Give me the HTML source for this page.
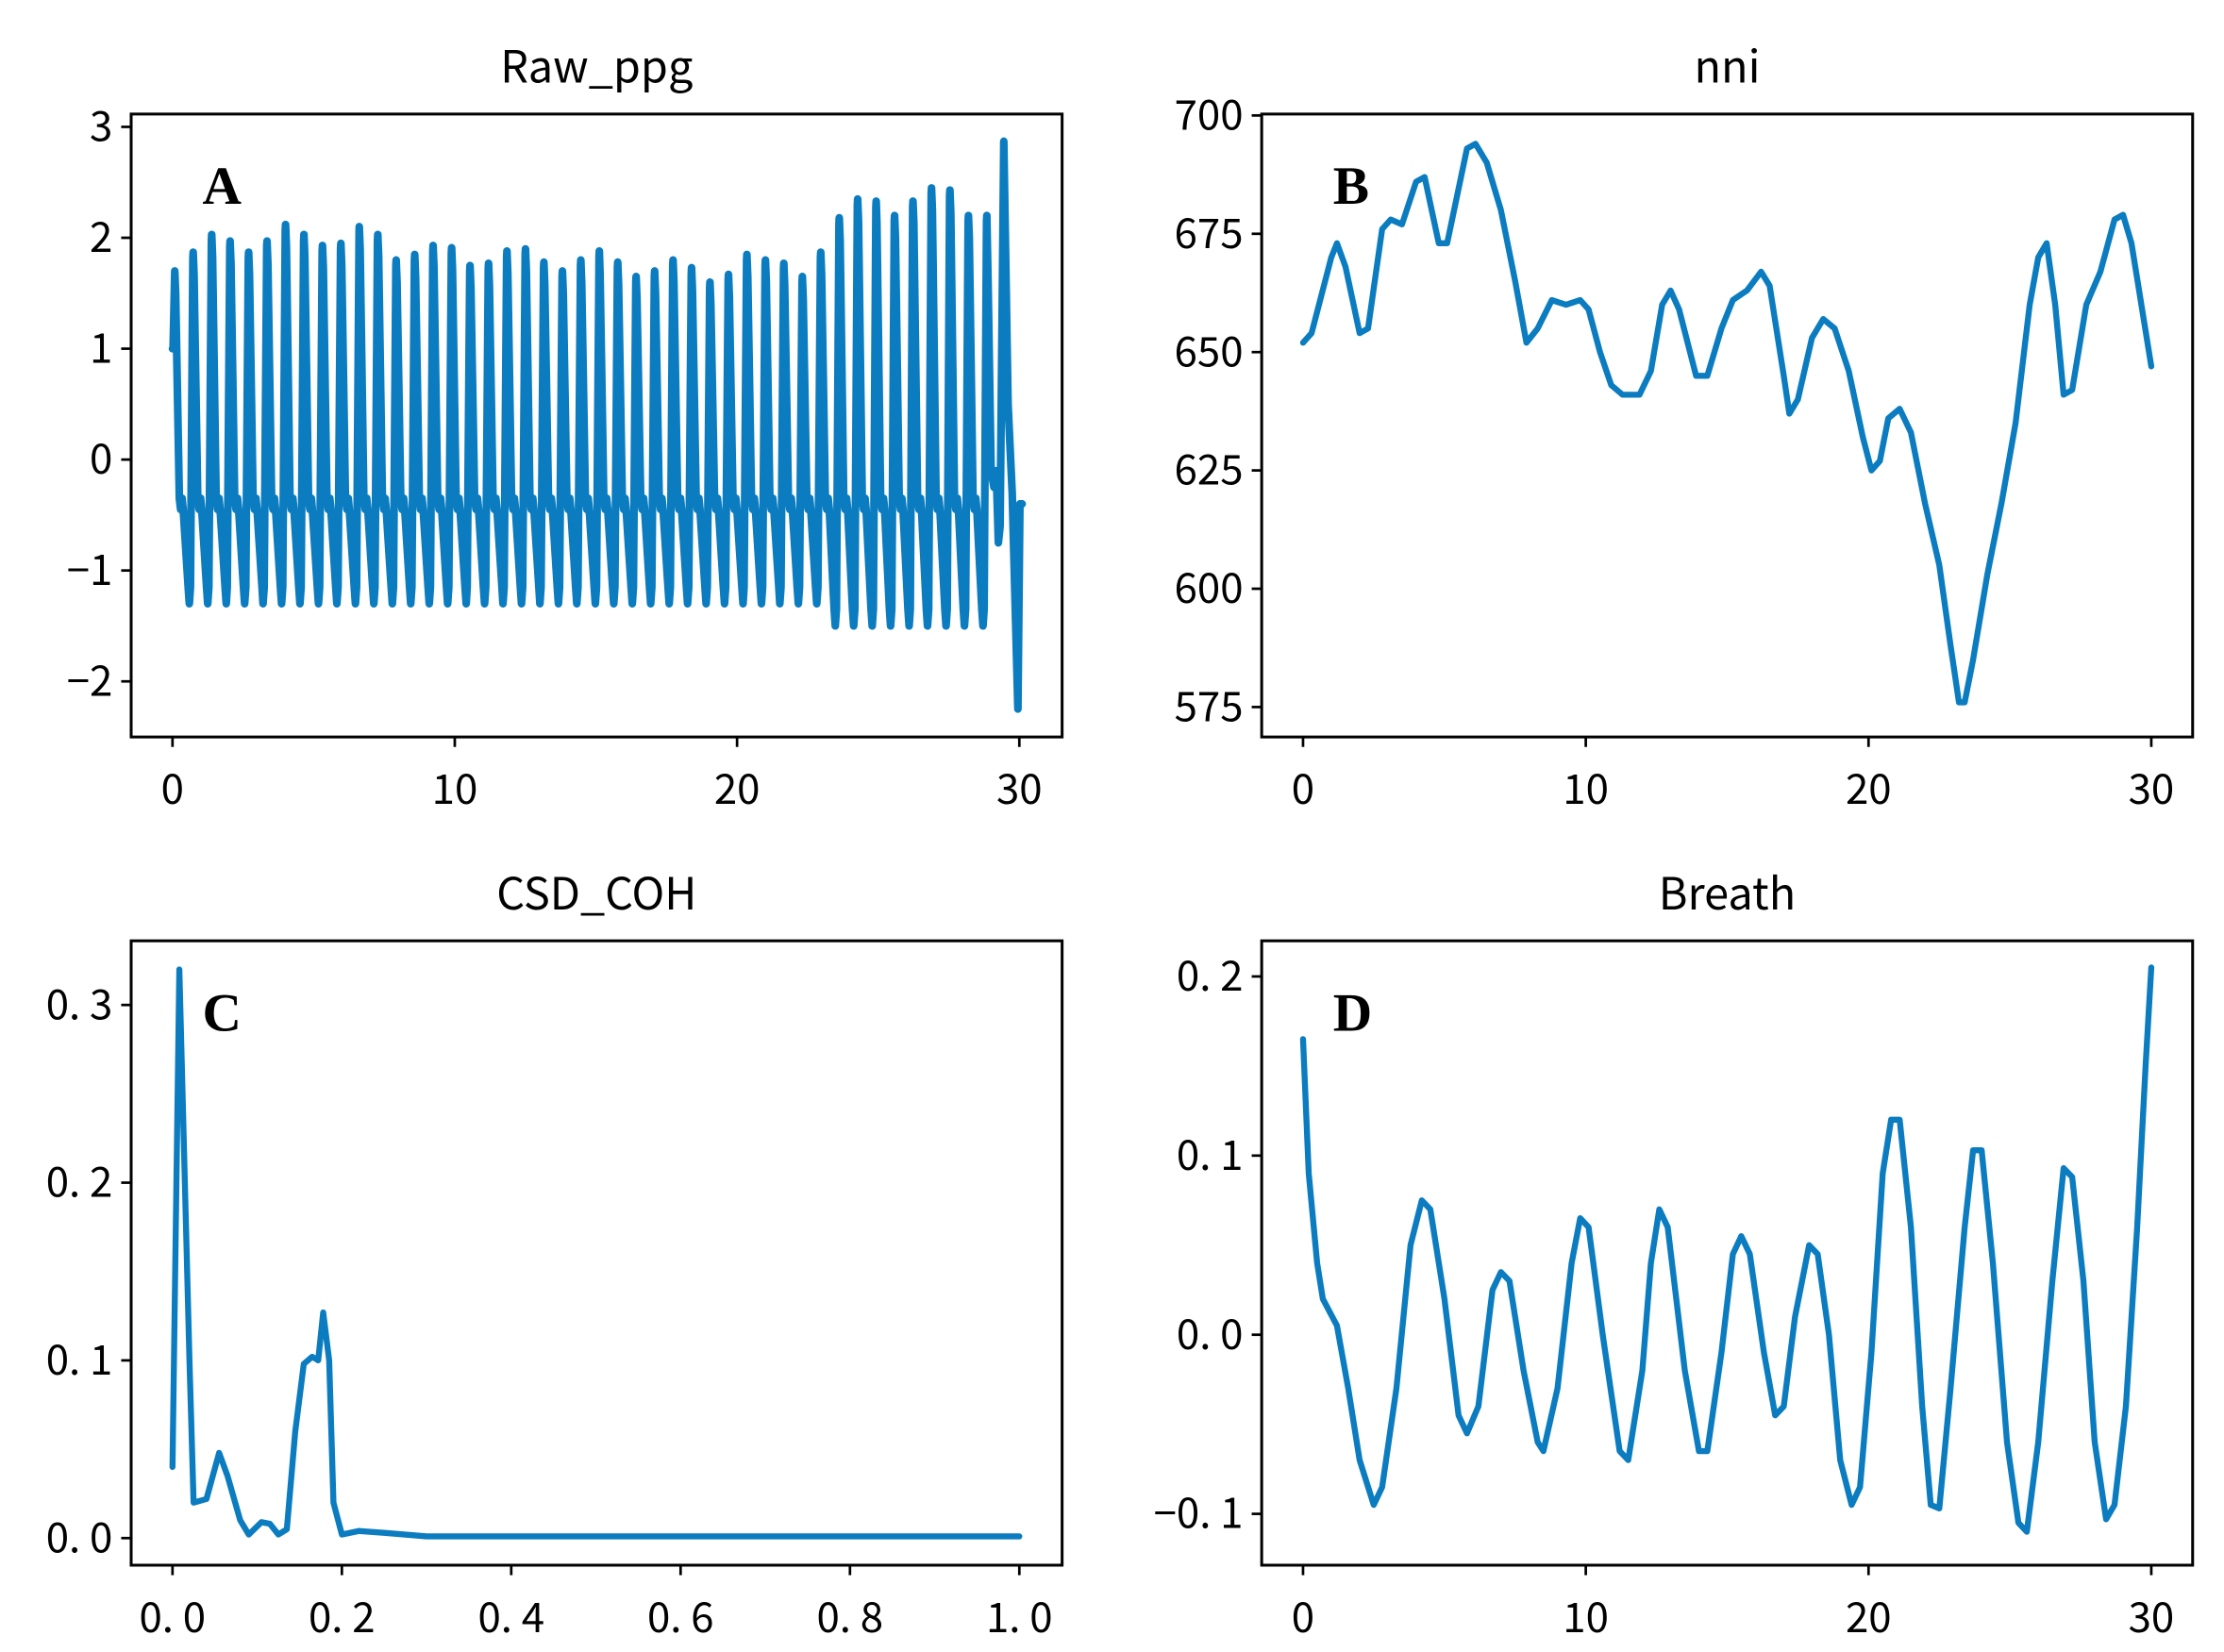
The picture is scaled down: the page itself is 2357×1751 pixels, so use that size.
<!DOCTYPE html>
<html><head><meta charset="utf-8"><style>
html,body{margin:0;padding:0;background:#fff}
svg{display:block}
text{font-family:"Noto Sans CJK SC","WenQuanYi Zen Hei",sans-serif;fill:#000}
.t{font-size:29px}
.tt{font-size:31px}
.L{font-family:"Liberation Serif",serif;font-weight:bold;font-size:38px}
</style></head><body>
<svg id="s" width="2357" height="1751" viewBox="0 0 1560 1158.9" xmlns="http://www.w3.org/2000/svg">
<g id="g"></g>
</svg>
<script>
const NS="http://www.w3.org/2000/svg",g=document.getElementById('g');
function el(t,a,txt){const e=document.createElementNS(NS,t);for(const k in a)e.setAttribute(k,a[k]);if(txt!==undefined)e.textContent=txt;g.appendChild(e);return e;}
function panel(o){
 const {x0,x1,y0,y1,title,letter,xt,yt,fx,fy,pts,sw}=o;
 el('text',{x:(x0+x1)/2,y:y0-22,'text-anchor':'middle',class:'tt'},title);
 let d=pts.map((p,i)=>(i?'L':'M')+fx(p[0]).toFixed(1)+' '+fy(p[1]).toFixed(1)).join('');
 el('path',{d:d,fill:'none',stroke:'#0b7cbf','stroke-width':sw||4.2,'stroke-linejoin':'round','stroke-linecap':'round'});
 el('rect',{x:x0,y:y0,width:x1-x0,height:y1-y0,fill:'none',stroke:'#000','stroke-width':2});
 xt.forEach(([v,l])=>{const X=fx(v);el('line',{x1:X,x2:X,y1:y1,y2:y1+7,stroke:'#000','stroke-width':1.8});el('text',{x:X,y:y1+47,'text-anchor':'middle',class:'t'},l);});
 yt.forEach(([v,l])=>{const Y=fy(v);el('line',{x1:x0-7,x2:x0,y1:Y,y2:Y,stroke:'#000','stroke-width':1.8});el('text',{x:x0-13,y:Y+10,'text-anchor':'end',class:'t'},l);});
 el('text',{x:x0+50,y:y0+63,class:'L'},letter);
}
function lin(a,b,c,d){return v=>c+(v-a)*(d-c)/(b-a);}
// A
const pk=[1.7,1.87,2.03,1.97,1.87,1.97,2.12,2.03,1.93,1.95,2.1,2.03,1.8,1.85,1.93,1.91,1.75,1.77,1.88,1.9,1.78,1.7,1.8,1.88,1.78,1.65,1.7,1.8,1.73,1.6,1.67,1.85,1.8,1.77,1.65,1.87,2.18,2.35,2.33,2.2,2.33,2.45,2.43,2.2,2.2];
let A=[[0,1.0],[0.02,1.0],[0.08,1.7]];const per=(28.85-0.08)/44;
for(let i=0;i<45;i++){const t=0.08+i*per,lo=(t>23.3?-1.5:-1.3);
 if(i>0){A.push([t-0.18,lo+0.15]);A.push([t-0.14,lo]);A.push([t-0.1,lo+0.15]);A.push([t-0.01,pk[i]-0.05]);A.push([t,pk[i]]);}
 if(i<44){A.push([t+0.03,pk[i]-0.2]);A.push([t+0.16,-0.35]);A.push([t+0.21,-0.45]);A.push([t+0.26,-0.35]);A.push([t+0.3,-0.45]);}
}
A.push([28.9,1.5]);A.push([29.0,-0.1]);A.push([29.1,-0.25]);A.push([29.18,-0.1]);A.push([29.26,-0.75]);A.push([29.32,-0.6]);A.push([29.45,2.87]);A.push([29.6,0.5]);A.push([29.75,-0.3]);A.push([29.95,-2.25]);A.push([30.02,-0.4]);A.push([30.1,-0.4]);
const xt30=[[0,'0'],[10,'10'],[20,'20'],[30,'30']];
panel({x0:92,x1:745,y0:80,y1:517,title:'Raw_ppg',letter:'A',xt:xt30,sw:5.4,
 yt:[[3,'3'],[2,'2'],[1,'1'],[0,'0'],[-1,'−1'],[-2,'−2']],fx:lin(0,30,121,715),fy:lin(3,-2,89,478),pts:A});
// B
const B=[[0,652],[0.3,654],[1,670],[1.2,673],[1.5,668],[2,654],[2.3,655],[2.8,676],[3.1,678],[3.5,677],[4,686],[4.3,687],[4.8,673],[5.1,673],[5.8,693],[6.1,694],[6.5,690],[7,680],[7.5,665],[7.9,652],[8.3,655],[8.8,661],[9.3,660],[9.8,661],[10.1,659],[10.5,650],[10.9,643],[11.3,641],[11.9,641],[12.3,646],[12.7,660],[13,663],[13.3,659],[13.9,645],[14.3,645],[14.8,655],[15.2,661],[15.7,663],[16.2,667],[16.5,664],[17,645],[17.2,637],[17.5,640],[18,653],[18.4,657],[18.8,655],[19.3,646],[19.8,632],[20.1,625],[20.4,627],[20.7,636],[21.1,638],[21.5,633],[22,618],[22.5,605],[22.9,588],[23.2,576],[23.4,576],[23.7,585],[24.2,603],[24.7,618],[25.2,635],[25.7,660],[26,670],[26.3,673],[26.6,660],[26.9,641],[27.2,642],[27.7,660],[28.2,667],[28.7,678],[29,679],[29.3,673],[30,647]];
panel({x0:885,x1:1538,y0:80,y1:517,title:'nni',letter:'B',xt:xt30,
 yt:[[700,'700'],[675,'675'],[650,'650'],[625,'625'],[600,'600'],[575,'575']],fx:lin(0,30,914,1509),fy:lin(700,575,81,496),pts:B});
// C
const C=[[0,0.04],[0.008,0.32],[0.02,0.1],[0.025,0.02],[0.04,0.022],[0.055,0.048],[0.065,0.035],[0.08,0.01],[0.09,0.002],[0.105,0.009],[0.115,0.008],[0.125,0.002],[0.135,0.005],[0.145,0.06],[0.155,0.098],[0.165,0.102],[0.172,0.1],[0.178,0.127],[0.185,0.1],[0.19,0.02],[0.2,0.002],[0.22,0.004],[0.25,0.003],[0.3,0.001],[1.0,0.001]];
panel({x0:92,x1:745,y0:660,y1:1098,title:'CSD_COH',letter:'C',
 xt:[[0,'0. 0'],[0.2,'0. 2'],[0.4,'0. 4'],[0.6,'0. 6'],[0.8,'0. 8'],[1,'1. 0']],
 yt:[[0.3,'0. 3'],[0.2,'0. 2'],[0.1,'0. 1'],[0,'0. 0']],fx:lin(0,1,121,715),fy:lin(0.3,0,705,1079),pts:C});
// D
const D=[[0,0.165],[0.2,0.09],[0.5,0.04],[0.7,0.02],[1.2,0.005],[1.6,-0.03],[2,-0.07],[2.5,-0.095],[2.8,-0.085],[3.3,-0.03],[3.8,0.05],[4.2,0.075],[4.5,0.07],[5,0.02],[5.5,-0.045],[5.8,-0.055],[6.2,-0.04],[6.7,0.025],[7,0.035],[7.3,0.03],[7.8,-0.02],[8.3,-0.06],[8.5,-0.065],[9,-0.03],[9.5,0.04],[9.8,0.065],[10.1,0.06],[10.6,0.0],[11.2,-0.065],[11.5,-0.07],[12,-0.02],[12.3,0.04],[12.6,0.07],[12.9,0.06],[13.5,-0.02],[14,-0.065],[14.3,-0.065],[14.8,-0.01],[15.2,0.045],[15.5,0.055],[15.8,0.045],[16.3,-0.01],[16.7,-0.045],[17,-0.04],[17.4,0.01],[17.9,0.05],[18.2,0.045],[18.6,0.0],[19,-0.07],[19.4,-0.095],[19.7,-0.085],[20.1,-0.01],[20.5,0.09],[20.8,0.12],[21.1,0.12],[21.5,0.06],[21.9,-0.04],[22.2,-0.095],[22.5,-0.097],[22.9,-0.03],[23.4,0.06],[23.7,0.103],[24,0.103],[24.4,0.04],[24.9,-0.06],[25.3,-0.105],[25.6,-0.11],[26,-0.06],[26.5,0.03],[26.9,0.093],[27.2,0.088],[27.6,0.03],[28,-0.06],[28.4,-0.103],[28.7,-0.095],[29.1,-0.04],[29.5,0.06],[29.8,0.15],[30,0.205]];
panel({x0:885,x1:1538,y0:660,y1:1098,title:'Breath',letter:'D',xt:xt30,
 yt:[[0.2,'0. 2'],[0.1,'0. 1'],[0,'0. 0'],[-0.1,'−0. 1']],fx:lin(0,30,914,1509),fy:lin(0.2,-0.1,685,1062),pts:D});
</script>
</body></html>
